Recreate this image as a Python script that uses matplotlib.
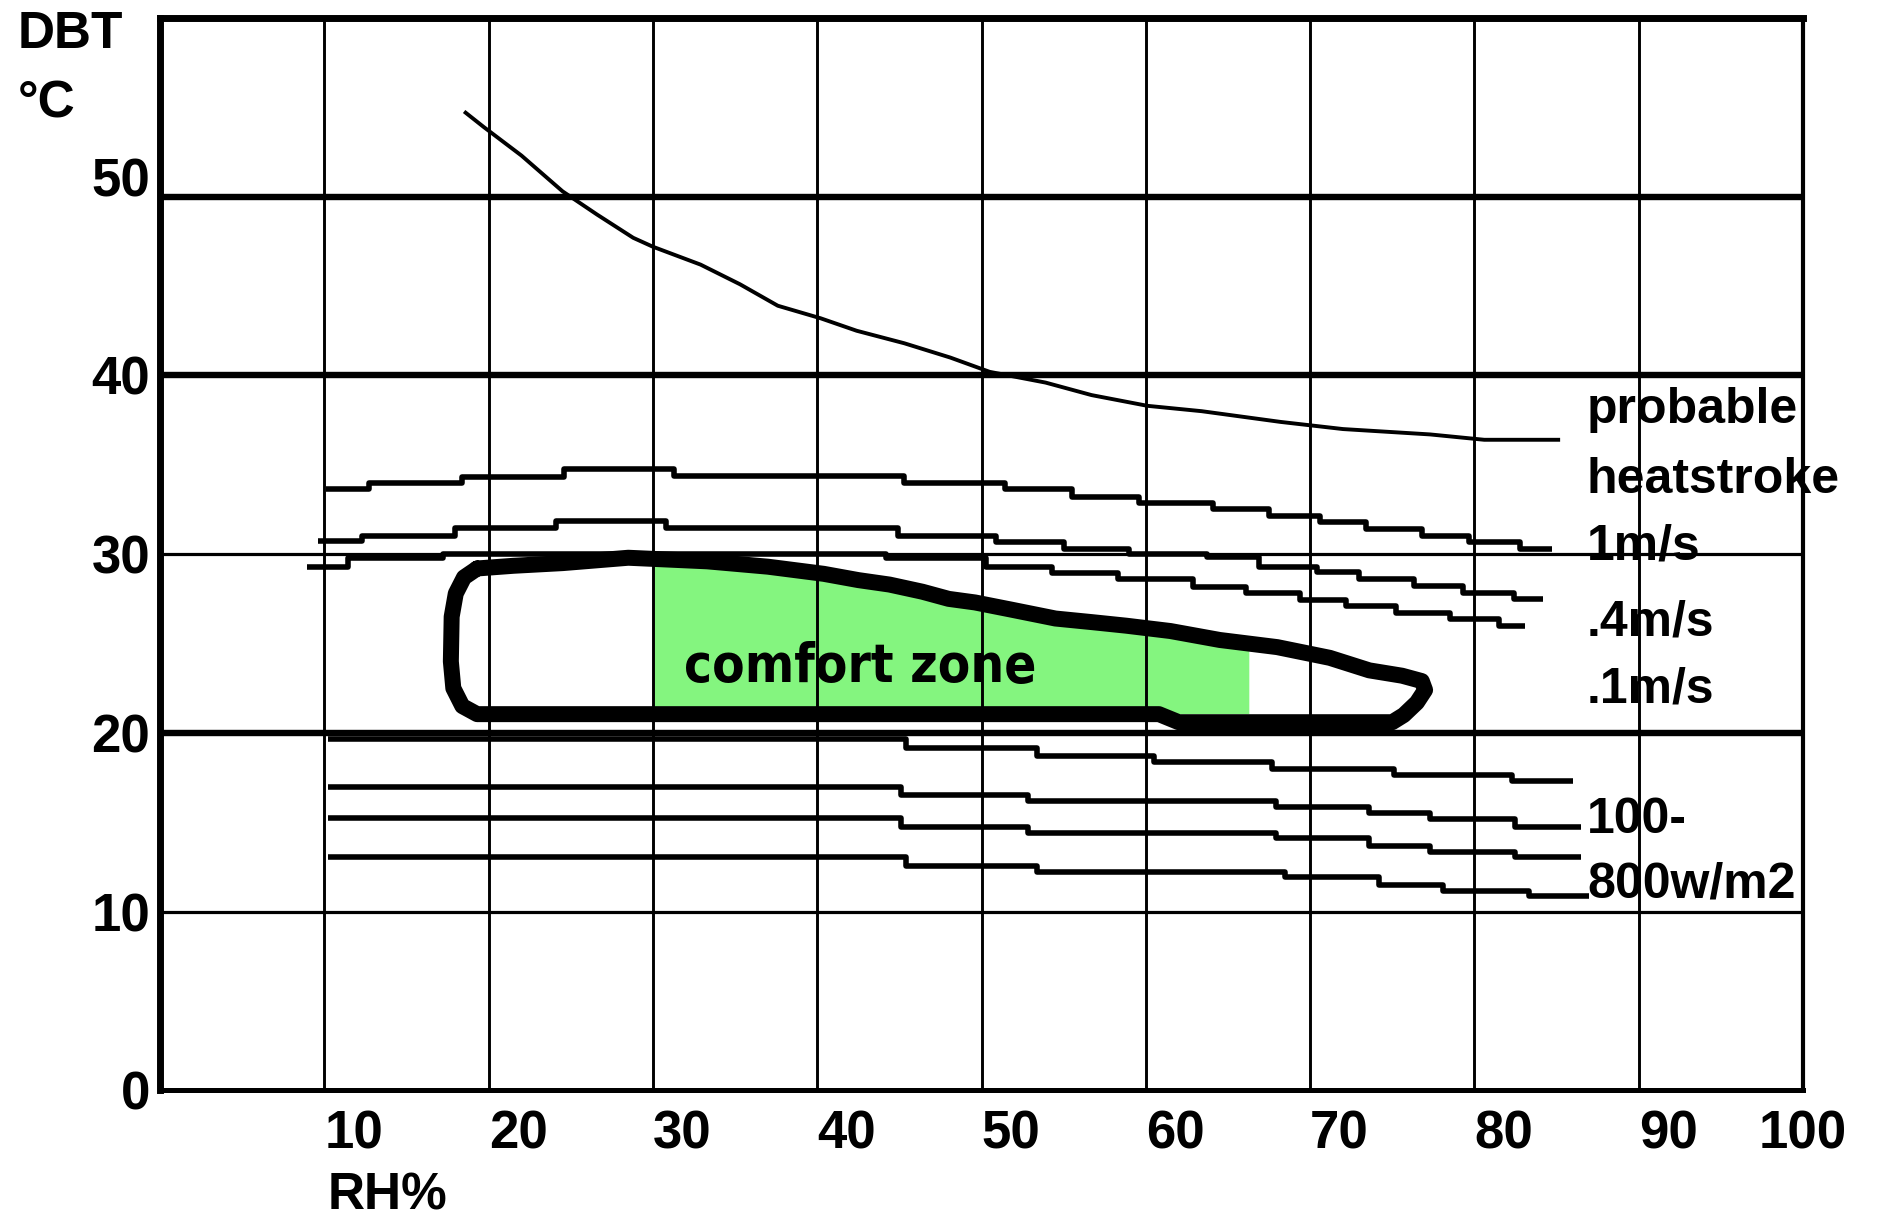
import os
import matplotlib
matplotlib.use("Agg")
import matplotlib.pyplot as plt
import matplotlib.font_manager as fm
import numpy as np

# ---------------- data ----------------
rh_ticks = [10, 20, 30, 40, 50, 60, 70, 80, 90, 100]
dbt_ticks = [0, 10, 20, 30, 40, 50]
v_grid = [10, 20, 30, 40, 50, 60, 70, 80, 90]
h_grid_thin = [10, 30]
h_grid_thick = [20, 40, 50]

# probable heatstroke curve
heat_x = [18.6, 19.7, 22.0, 24.5, 26.6, 28.8, 30.0, 32.9, 35.3, 37.6, 40.2, 42.4,
          45.3, 48.1, 50.5, 53.9, 56.7, 60.1, 63.4, 68.2, 72.0, 77.3, 80.6, 85.1]
heat_y = [54.7, 53.9, 52.3, 50.3, 49.0, 47.7, 47.2, 46.2, 45.1, 43.9, 43.2, 42.5,
          41.8, 41.0, 40.2, 39.6, 38.9, 38.3, 38.0, 37.4, 37.0, 36.7, 36.4, 36.4]

# air-movement limits (step segments: start x, level)
w1_x = [10.1, 12.7, 18.4, 24.6, 31.3, 45.3, 51.4, 55.5, 59.6, 64.1, 67.5, 70.6, 73.4, 76.8, 79.7, 82.8, 84.7]
w1_y = [33.64, 33.97, 34.34, 34.75, 34.36, 33.97, 33.64, 33.22, 32.89, 32.52, 32.11, 31.78, 31.40, 30.99, 30.66, 30.29]
w04_x = [9.64, 12.3, 17.95, 24.1, 30.8, 44.9, 50.9, 55.0, 59.0, 63.7, 66.9, 70.4, 73.0, 76.3, 79.3, 82.4, 84.2]
w04_y = [30.71, 31.02, 31.45, 31.83, 31.45, 30.99, 30.66, 30.29, 30.0, 29.84, 29.28, 28.98, 28.63, 28.2, 27.83, 27.49]
w01_x = [8.93, 11.46, 17.25, 44.2, 50.3, 54.3, 58.3, 62.9, 66.1, 69.4, 72.2, 75.2, 78.5, 81.5, 83.1]
w01_y = [29.28, 29.79, 30.02, 29.79, 29.28, 28.95, 28.59, 28.17, 27.80, 27.46, 27.1, 26.72, 26.39, 26.0]

# radiation limits 100-800 W/m2
rD_x = [10.2, 45.4, 53.4, 60.5, 67.7, 75.1, 82.3, 86.0]
rD_y = [19.65, 19.15, 18.7, 18.38, 18.0, 17.65, 17.31]
rE_x = [10.2, 45.1, 52.8, 67.9, 73.6, 77.3, 82.5, 86.5]
rE_y = [17.0, 16.53, 16.2, 15.84, 15.54, 15.2, 14.76]
rF_x = [10.2, 45.1, 52.8, 67.9, 73.6, 77.3, 82.5, 86.5]
rF_y = [15.23, 14.76, 14.38, 14.1, 13.68, 13.36, 13.05]
rG_x = [10.2, 45.4, 53.4, 68.5, 74.2, 78.1, 83.3, 87.0]
rG_y = [13.04, 12.56, 12.24, 11.92, 11.5, 11.13, 10.85]

# comfort zone outline
zone_x = [19.3, 21.5, 24.5, 28.5, 33.3, 37.0, 40.4, 42.5, 44.4, 46.4, 48.0, 49.6, 51.8, 54.5,
          56.7, 58.8, 61.5, 64.5, 68.0, 71.2, 73.6, 75.6, 76.8, 77.0, 76.5, 75.7, 75.0,
          62.0, 60.8, 40.0, 19.3, 18.4, 17.85, 17.7, 17.75, 18.0, 18.5, 19.3]
zone_y = [29.2, 29.35, 29.5, 29.8, 29.6, 29.3, 28.9, 28.55, 28.3, 27.9, 27.5, 27.3, 26.9, 26.4,
          26.2, 26.0, 25.7, 25.2, 24.8, 24.2, 23.5, 23.2, 22.9, 22.4, 21.7, 21.0, 20.6,
          20.6, 21.05, 21.05, 21.05, 21.5, 22.5, 24.0, 26.5, 27.8, 28.7, 29.2]

# green (comfort) fill
green_x = [30.0, 33.3, 37.0, 40.4, 42.5, 44.4, 46.4, 48.0, 49.6, 51.8, 54.5, 56.7, 58.8, 61.5, 64.5, 66.3, 66.3, 30.0]
green_y = [29.75, 29.6, 29.3, 28.9, 28.55, 28.3, 27.9, 27.5, 27.3, 26.9, 26.4, 26.2, 26.0, 25.7, 25.2, 25.0, 21.05, 21.05]

right_labels = ["probable", "heatstroke", "1m/s", ".4m/s", ".1m/s", "100-", "800w/m2"]
right_label_y = [37.35, 33.44, 29.68, 25.43, 21.7, 14.4, 10.77]

# ---------------- fonts ----------------
LBL = ["Liberation Sans", "DejaVu Sans"]


def pick_condensed():
    cands = [("Liberation Sans Narrow", "normal"), ("Arial Narrow", "normal"),
             ("DejaVu Sans Condensed", "normal"), ("DejaVu Sans", "condensed"),
             ("Roboto Condensed", "normal"), ("Noto Sans", "condensed")]
    for fam, st in cands:
        try:
            p = fm.findfont(fm.FontProperties(family=fam, stretch=st, weight="bold"),
                            fallback_to_default=False)
        except Exception:
            continue
        name = os.path.basename(p).lower()
        if "narrow" in name or "cond" in name:
            return fm.FontProperties(fname=p)
    return fm.FontProperties(family="Liberation Sans", weight="bold")


# ---------------- drawing ----------------
fig = plt.figure(figsize=(18.83, 12.22), dpi=100)
fig.patch.set_facecolor("white")
ax = fig.add_axes([0.085, 0.1077, 0.8725, 0.8776])
ax.set_xlim(0, 100)
ax.set_ylim(0, 60)

# green comfort region
ax.fill(green_x, green_y, color="#84f57f", lw=0, zorder=0.5)

# grid
for v in v_grid:
    ax.axvline(v, color="black", lw=2.1, zorder=1)
for h in h_grid_thin:
    ax.axhline(h, color="black", lw=2.3, zorder=1)
for h in h_grid_thick:
    ax.axhline(h, color="black", lw=4.6, zorder=1)

# heatstroke curve
ax.plot(heat_x, heat_y, color="black", lw=2.8, zorder=3)


def step_line(xs, ys, lw):
    ax.plot(xs, list(ys) + [ys[-1]], drawstyle="steps-post", color="black",
            lw=lw, solid_capstyle="butt", zorder=3)


for xs, ys in [(w1_x, w1_y), (w04_x, w04_y), (w01_x, w01_y)]:
    step_line(xs, ys, 4.0)
for xs, ys in [(rD_x, rD_y), (rE_x, rE_y), (rF_x, rF_y), (rG_x, rG_y)]:
    step_line(xs, ys, 4.0)

# comfort zone outline
ax.plot(zone_x, zone_y, color="black", lw=11.5, solid_joinstyle="round",
        solid_capstyle="round", zorder=4)

# comfort zone label, sized to about the reference width
cfp = pick_condensed()
ctext = ax.text(31.9, 22.85, "comfort zone", fontproperties=cfp, color="black",
                ha="left", va="baseline", zorder=6)
ctext.set_fontsize(40)
fig.canvas.draw()
cw = ctext.get_window_extent(renderer=fig.canvas.get_renderer()).width
ctext.set_fontsize(min(46.0, 40.0 * 352.0 / cw))

for lbl, y in zip(right_labels, right_label_y):
    ax.text(86.85, y, lbl, family=LBL, fontweight="bold", fontsize=36,
            ha="left", va="baseline", clip_on=False, zorder=6)

# spines
ax.spines["top"].set_linewidth(5)
ax.spines["left"].set_linewidth(5)
ax.spines["bottom"].set_linewidth(3.6)
ax.spines["right"].set_linewidth(3)
for s in ax.spines.values():
    s.set_zorder(5)

# ticks
ax.set_xticks(rh_ticks)
ax.set_xticklabels([str(t) for t in rh_ticks], family=LBL, fontweight="bold", fontsize=38)
ax.set_yticks(dbt_ticks)
ax.set_yticklabels([str(t) for t in dbt_ticks], family=LBL, fontweight="bold", fontsize=38)
ax.tick_params(axis="x", length=0, pad=14)
ax.tick_params(axis="y", length=0, pad=7)
for lab in ax.get_xticklabels():
    lab.set_ha("left")
ax.xaxis.get_major_ticks()[-1].label1.set_ha("center")
ax.yaxis.get_major_ticks()[-1].label1.set_va("baseline")

# axis titles
fig.text(18 / 1883, 1 - 10 / 1222, "DBT", family=LBL, fontweight="bold", fontsize=37,
         ha="left", va="top")
fig.text(18 / 1883, 1 - 80 / 1222, "°C", family=LBL, fontweight="bold", fontsize=37,
         ha="left", va="top")
fig.text(328 / 1883, 1 - 1172 / 1222, "RH%", family=LBL, fontweight="bold", fontsize=37,
         ha="left", va="top")

fig.savefig("out.png", dpi=100, facecolor="white")
